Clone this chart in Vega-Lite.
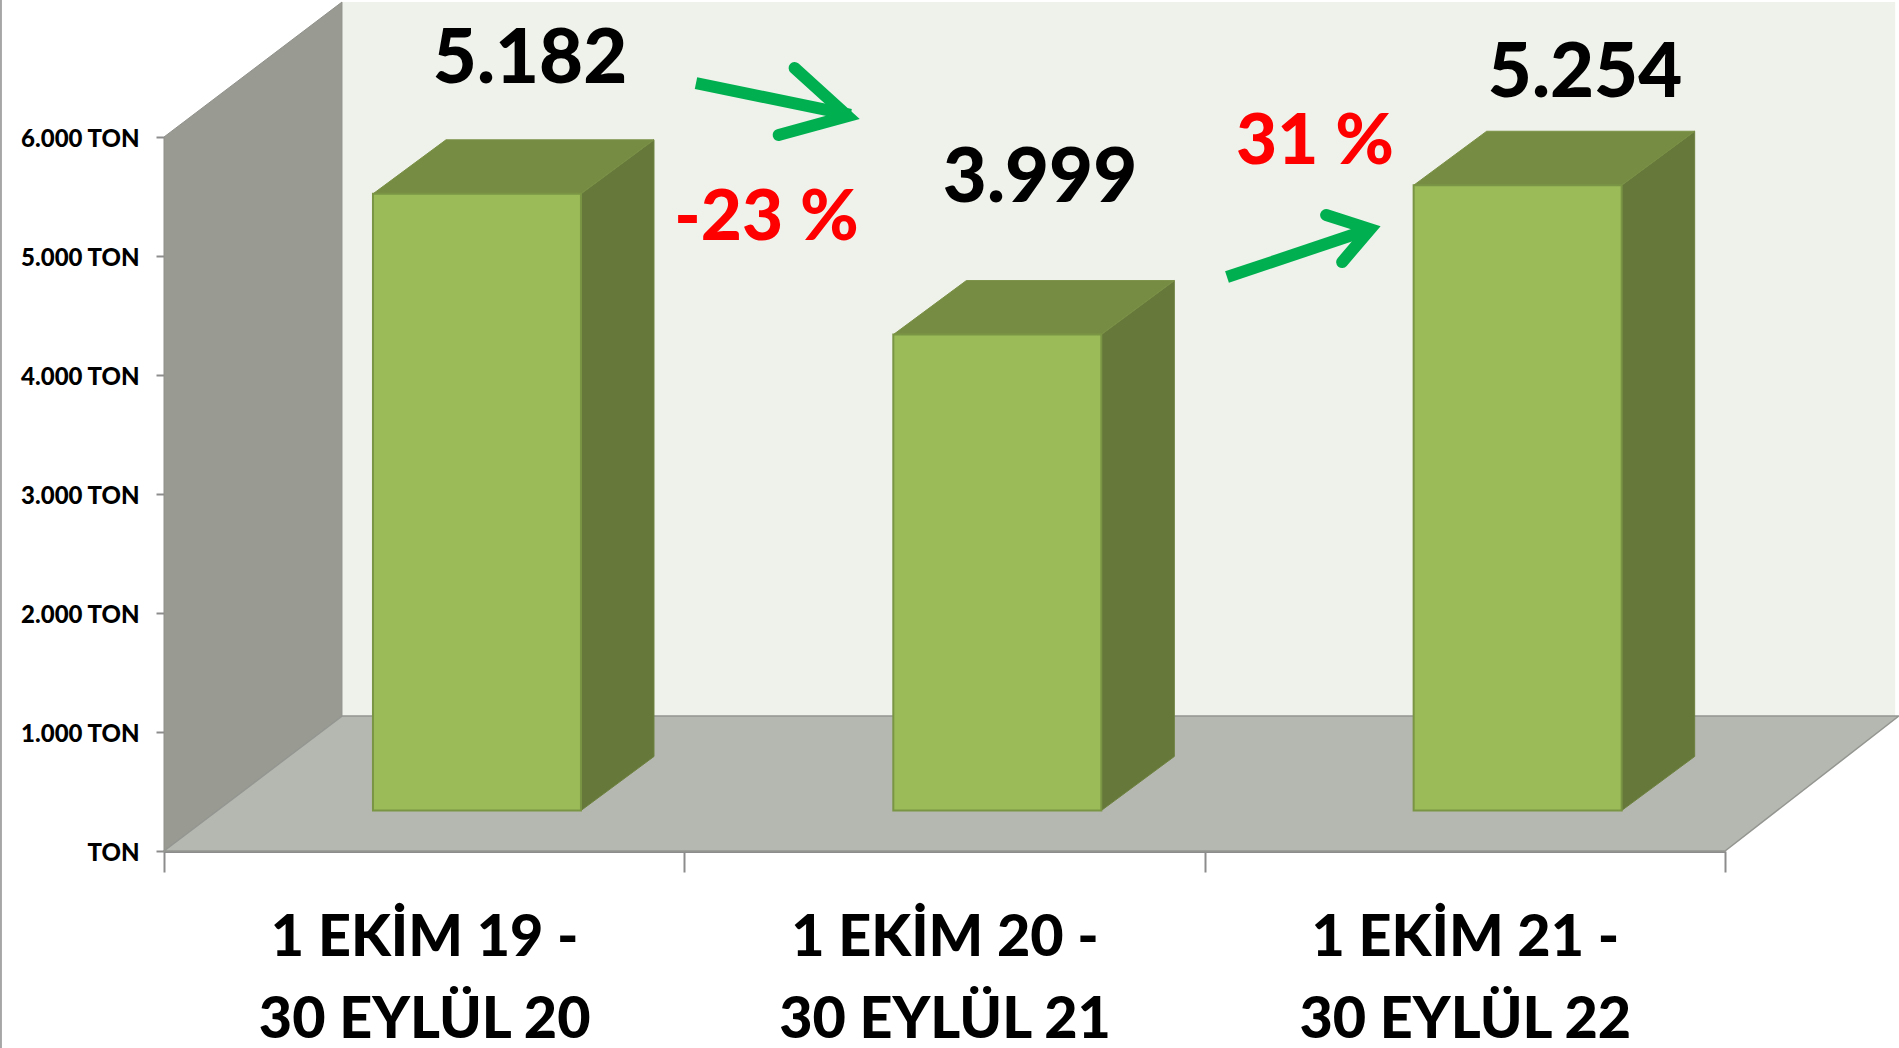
{"$schema":"https://vega.github.io/schema/vega-lite/v6.json","width":1561,"height":714,"autosize":"none","padding":{"left":164,"top":137,"right":174,"bottom":197},"background":"white","view":{"stroke":null},"config":{"font":"Lato","axis":{"grid":false,"labelFont":"Lato","labelFontWeight":900,"labelColor":"black"}},
"datasets":{
"bars":[{"period":"1 EKİM 19 - 30 EYLÜL 20","ton":5182},{"period":"1 EKİM 20 - 30 EYLÜL 21","ton":3999},{"period":"1 EKİM 21 - 30 EYLÜL 22","ton":5254}],
"side":[{"bar":"a","pos":0.8014,"low":0,"high":5182},{"bar":"a","pos":0.9417,"low":454,"high":5636},{"bar":"b","pos":1.8014,"low":0,"high":3999},{"bar":"b","pos":1.9417,"low":454,"high":4453},{"bar":"c","pos":2.8014,"low":0,"high":5254},{"bar":"c","pos":2.9417,"low":454,"high":5708}],
"top":[{"bar":"a","left":0.4017,"right":0.8014,"level":5182},{"bar":"a","left":0.5420,"right":0.9417,"level":5636},{"bar":"b","left":1.4017,"right":1.8014,"level":3999},{"bar":"b","left":1.5420,"right":1.9417,"level":4453},{"bar":"c","left":2.4017,"right":2.8014,"level":5254},{"bar":"c","left":2.5420,"right":2.9417,"level":5708}],
"wallSide":[{"pos":0,"low":0,"high":6000},{"pos":0.342,"low":1134,"high":7134}],
"floor":[{"left":0,"right":3,"level":0},{"left":0.342,"right":3.334,"level":1134}],
"backWall":[{"left":0.342,"right":3.327,"low":1134,"high":7134}],
"edge":[{"pos":-0.3133,"low":-1655,"high":7155}],
"values":[{"pos":0.7034,"level":6650,"label":"5.182"},{"pos":1.6836,"level":5650,"label":"3.999"},{"pos":2.731,"level":6532,"label":"5.254"}],
"changes":[{"pos":1.1578,"level":5315,"label":"-23 %"},{"pos":2.212,"level":5946,"label":"31 %"}],
"shafts":[{"p1":1.0224,"v1":6453,"p2":1.3196,"v2":6185},{"p1":2.0429,"v1":4823,"p2":2.3124,"v2":5218}],
"heads":[{"arrow":"a","seq":1,"pos":1.2119,"level":6580},{"arrow":"a","seq":2,"pos":1.3138,"level":6176},{"arrow":"a","seq":3,"pos":1.1812,"level":6017},{"arrow":"b","seq":1,"pos":2.2334,"level":5344},{"arrow":"b","seq":2,"pos":2.3181,"level":5226},{"arrow":"b","seq":3,"pos":2.2642,"level":4949}]
},
"resolve":{"scale":{"x":"independent"},"axis":{"x":"independent"}},
"layer":[
{"data":{"name":"edge"},"mark":{"type":"rule","color":"#8c8c8c","strokeWidth":1.5},"encoding":{"x":{"field":"pos","type":"quantitative","scale":{"domain":[0,3]},"axis":null},"y":{"field":"low","type":"quantitative","scale":{"domain":[0,6000]},"axis":{"title":null,"values":[0,1000,2000,3000,4000,5000,6000],"tickSize":8,"tickWidth":2,"tickColor":"#8c8c8c","domain":false,"labelFontSize":24,"labelPadding":17,"labelOffset":2,"labelExpr":"datum.value==0?'TON':replace(format(datum.value,','),',','.')+' TON'"}},"y2":{"field":"high"}}},
{"data":{"name":"backWall"},"mark":{"type":"rect","color":"#EFF2EB"},"encoding":{"x":{"field":"left","type":"quantitative","scale":{"domain":[0,3]},"axis":null},"x2":{"field":"right"},"y":{"field":"low","type":"quantitative","scale":{"domain":[0,6000]},"axis":{"title":null}},"y2":{"field":"high"}}},
{"data":{"name":"wallSide"},"mark":{"type":"area","color":"#999B93","stroke":"#8f918a","strokeWidth":1},"encoding":{"x":{"field":"pos","type":"quantitative","scale":{"domain":[0,3]},"axis":null},"y":{"field":"low","type":"quantitative","scale":{"domain":[0,6000]},"axis":{"title":null}},"y2":{"field":"high"}}},
{"data":{"name":"floor"},"mark":{"type":"area","orient":"horizontal","color":"#B5B8B0","stroke":"#949691","strokeWidth":1.5},"encoding":{"y":{"field":"level","type":"quantitative","scale":{"domain":[0,6000]},"axis":{"title":null}},"x":{"field":"left","type":"quantitative","scale":{"domain":[0,3]},"axis":null},"x2":{"field":"right"}}},
{"data":{"name":"side"},"mark":{"type":"area","yOffset":-40.5,"y2Offset":-40.5,"color":"#66783A","stroke":"#6E8240","strokeWidth":1},"encoding":{"x":{"field":"pos","type":"quantitative","scale":{"domain":[0,3]},"axis":null},"y":{"field":"low","type":"quantitative","scale":{"domain":[0,6000]},"axis":{"title":null}},"y2":{"field":"high"},"detail":{"field":"bar"}}},
{"data":{"name":"top"},"mark":{"type":"area","orient":"horizontal","yOffset":-40.5,"color":"#778C43","stroke":"#7A9045","strokeWidth":1},"encoding":{"y":{"field":"level","type":"quantitative","scale":{"domain":[0,6000]},"axis":{"title":null}},"x":{"field":"left","type":"quantitative","scale":{"domain":[0,3]},"axis":null},"x2":{"field":"right"},"detail":{"field":"bar"}}},
{"data":{"name":"bars"},"mark":{"type":"bar","size":208,"xOffset":52.8,"yOffset":-40.5,"y2Offset":-40.5,"color":"#9BBB59","stroke":"#7A9544","strokeWidth":2},"encoding":{"x":{"field":"period","type":"nominal","sort":null,"scale":{"paddingInner":0,"paddingOuter":0},"axis":{"title":null,"orient":"bottom","tickBand":"extent","tickSize":21,"tickWidth":2,"tickColor":"#8c8c8c","domainColor":"#8c8c8c","domainWidth":3,"labelAngle":0,"labelAlign":"center","labelBaseline":"top","labelFontSize":57.5,"labelLineHeight":82,"labelPadding":38,"labelLimit":0,"labelExpr":"indexof(datum.label,' - ')<0?'':[split(datum.label,' - ')[0]+' -',split(datum.label,' - ')[1]]"}},"y":{"field":"ton","type":"quantitative","stack":null,"scale":{"domain":[0,6000]},"axis":{"title":null}},"y2":{"datum":0}}},
{"data":{"name":"shafts"},"mark":{"type":"rule","color":"#00B050","strokeWidth":12,"strokeCap":"butt"},"encoding":{"x":{"field":"p1","type":"quantitative","scale":{"domain":[0,3]},"axis":null},"y":{"field":"v1","type":"quantitative","scale":{"domain":[0,6000]},"axis":{"title":null}},"x2":{"field":"p2"},"y2":{"field":"v2"}}},
{"data":{"name":"heads"},"mark":{"type":"line","color":"#00B050","strokeWidth":12,"strokeCap":"round","strokeJoin":"miter"},"encoding":{"x":{"field":"pos","type":"quantitative","scale":{"domain":[0,3]},"axis":null},"y":{"field":"level","type":"quantitative","scale":{"domain":[0,6000]},"axis":{"title":null}},"detail":{"field":"arrow"},"order":{"field":"seq"}}},
{"data":{"name":"values"},"mark":{"type":"text","font":"Lato","fontWeight":900,"fontSize":76,"color":"black","align":"center","baseline":"middle"},"encoding":{"x":{"field":"pos","type":"quantitative","scale":{"domain":[0,3]},"axis":null},"y":{"field":"level","type":"quantitative","scale":{"domain":[0,6000]},"axis":{"title":null}},"text":{"field":"label"}}},
{"data":{"name":"changes"},"mark":{"type":"text","font":"Lato","fontWeight":900,"fontSize":71,"color":"#FF0000","align":"center","baseline":"middle"},"encoding":{"x":{"field":"pos","type":"quantitative","scale":{"domain":[0,3]},"axis":null},"y":{"field":"level","type":"quantitative","scale":{"domain":[0,6000]},"axis":{"title":null}},"text":{"field":"label"}}}
]}
